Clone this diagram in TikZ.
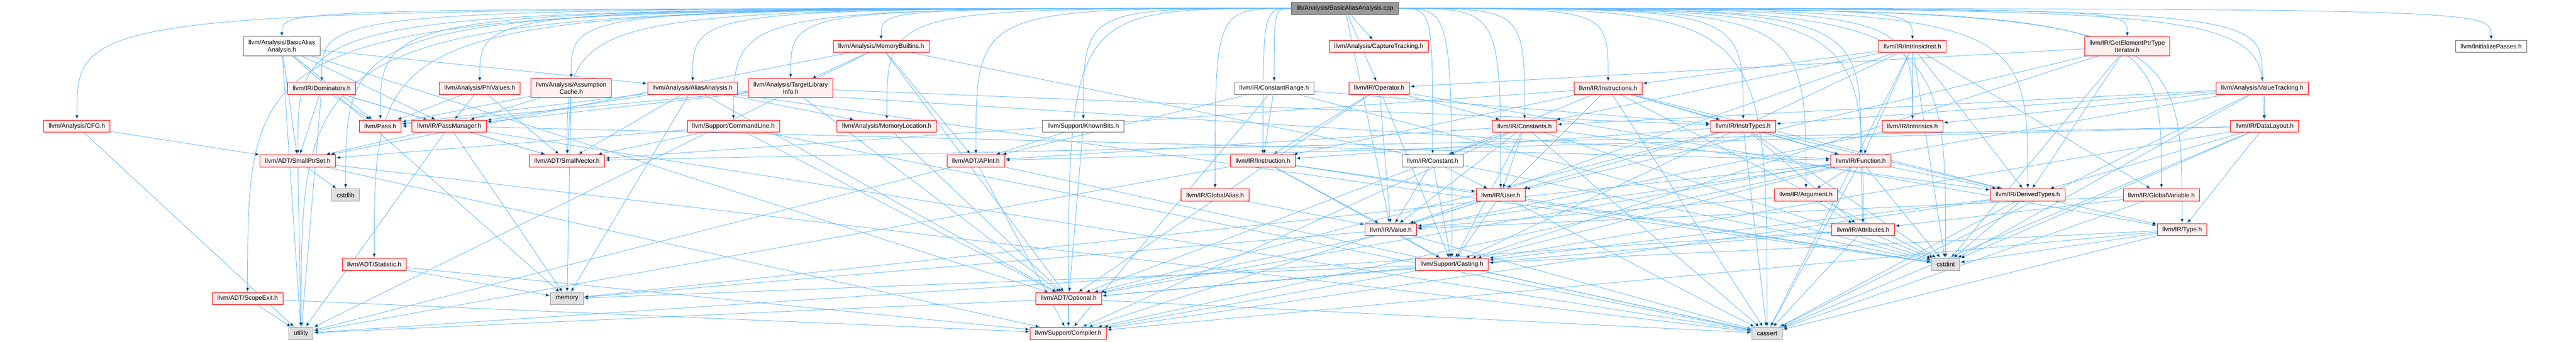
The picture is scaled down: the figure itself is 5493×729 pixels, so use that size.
\documentclass[tikz,border=0pt]{standalone}
\usepackage{fontspec}
\setmainfont{Liberation Sans}
\usepackage{tikz}
\usetikzlibrary{arrows.meta, backgrounds}
\definecolor{edgeblue}{HTML}{63B8FF}
\definecolor{nodepink}{HTML}{FFF0F0}
\definecolor{sysgray}{HTML}{E0E0E0}

\begin{document}
\begin{tikzpicture}[x=0.75pt, y=-0.75pt]
    % Setup the styles for the headers
        \tikzset{node style/.style={draw, rectangle,
                                    line width=0.75pt,
                                    minimum height=19.5pt,
                                    inner xsep=8pt, inner ysep=2pt,
                                    align=center,
                                    font=\fontsize{10}{11.2}\selectfont},
                 two lines/.style={minimum height=30pt},
                 red node/.style={node style, draw=red, fill=nodepink},
                 white node/.style={node style, draw=black!60, fill=white},
                 sys node/.style={node style, draw=black!40, fill=sysgray},
                 root node/.style={node style, draw=black!60, fill=black!40},
                 dep/.style={line width=0.75pt, draw=edgeblue,
                             -{Latex[length=7.5pt,width=6pt]}},
                 from root/.style={to path={.. controls (\tikztostart -| \tikztotarget) .. (\tikztotarget) \tikztonodes}}}
        \useasboundingbox (0,0) rectangle (5493,729);
        % Draw the headers
        \node[root node]  at (2868, 18)   (root)          {lib/Analysis/BasicAliasAnalysis.cpp};
        \node[white node, two lines] at (601, 99) (baah)  {llvm/Analysis/BasicAlias\\Analysis.h};
        \node[red node]   at (1879, 99)   (membuiltins)   {llvm/Analysis/MemoryBuiltins.h};
        \node[red node]   at (2940, 99)   (captrack)      {llvm/Analysis/CaptureTracking.h};
        \node[red node]   at (4078, 99)   (intrinst)      {llvm/IR/IntrinsicInst.h};
        \node[red node, two lines] at (4536, 99) (gepiter) {llvm/IR/GetElementPtrType\\Iterator.h};
        \node[white node] at (5312, 99)   (initpasses)    {llvm/InitializePasses.h};
        \node[red node]   at (686, 188)   (dominators)    {llvm/IR/Dominators.h};
        \node[red node]   at (1023, 188)  (phivalues)     {llvm/Analysis/PhiValues.h};
        \node[red node, two lines] at (1218, 188) (assumption) {llvm/Analysis/Assumption\\Cache.h};
        \node[red node]   at (1477, 188)  (aliasanalysis) {llvm/Analysis/AliasAnalysis.h};
        \node[red node, two lines] at (1686, 188) (tli)   {llvm/Analysis/TargetLibrary\\Info.h};
        \node[white node] at (2717, 188)  (constrange)    {llvm/IR/ConstantRange.h};
        \node[red node]   at (2941, 188)  (operator)      {llvm/IR/Operator.h};
        \node[red node]   at (3429, 188)  (instructions)  {llvm/IR/Instructions.h};
        \node[red node]   at (4824, 188)  (valuetracking) {llvm/Analysis/ValueTracking.h};
        \node[red node]   at (164, 269)   (cfg)           {llvm/Analysis/CFG.h};
        \node[red node]   at (811, 269)   (pass)          {llvm/Pass.h};
        \node[red node]   at (958, 269)   (passmanager)   {llvm/IR/PassManager.h};
        \node[red node]   at (1564, 269)  (commandline)   {llvm/Support/CommandLine.h};
        \node[red node]   at (1891, 269)  (memloc)        {llvm/Analysis/MemoryLocation.h};
        \node[white node] at (2310, 269)  (knownbits)     {llvm/Support/KnownBits.h};
        \node[red node]   at (3251, 269)  (constants)     {llvm/IR/Constants.h};
        \node[red node]   at (3717, 269)  (instrtypes)    {llvm/IR/InstrTypes.h};
        \node[red node]   at (4078, 269)  (intrinsics)    {llvm/IR/Intrinsics.h};
        \node[red node]   at (4829, 269)  (datalayout)    {llvm/IR/DataLayout.h};
        \node[red node]   at (635, 343)   (smallptrset)   {llvm/ADT/SmallPtrSet.h};
        \node[red node]   at (1209, 343)  (smallvector)   {llvm/ADT/SmallVector.h};
        \node[red node]   at (2081, 343)  (apint)         {llvm/ADT/APInt.h};
        \node[red node]   at (2693, 343)  (instruction)   {llvm/IR/Instruction.h};
        \node[white node] at (3055, 343)  (constant)      {llvm/IR/Constant.h};
        \node[red node]   at (3968, 343)  (function)      {llvm/IR/Function.h};
        \node[sys node]   at (737, 416)   (cstdlib)       {cstdlib};
        \node[red node]   at (2591, 416)  (globalalias)   {llvm/IR/GlobalAlias.h};
        \node[red node]   at (3200, 416)  (user)          {llvm/IR/User.h};
        \node[red node]   at (3851, 416)  (argument)      {llvm/IR/Argument.h};
        \node[red node]   at (4324, 416)  (derivedtypes)  {llvm/IR/DerivedTypes.h};
        \node[red node]   at (4609, 416)  (globalvar)     {llvm/IR/GlobalVariable.h};
        \node[red node]   at (2966, 490)  (value)         {llvm/IR/Value.h};
        \node[red node]   at (3973, 490)  (attributes)    {llvm/IR/Attributes.h};
        \node[red node]   at (4653, 490)  (type)          {llvm/IR/Type.h};
        \node[red node]   at (798, 564)   (statistic)     {llvm/ADT/Statistic.h};
        \node[red node]   at (3096, 564)  (casting)       {llvm/Support/Casting.h};
        \node[sys node]   at (4149, 564)  (cstdint)       {cstdint};
        \node[red node]   at (528, 637)   (scopeexit)     {llvm/ADT/ScopeExit.h};
        \node[sys node]   at (1209, 637)  (memory)        {memory};
        \node[red node]   at (2279, 637)  (optional)      {llvm/ADT/Optional.h};
        \node[sys node]   at (642, 711)   (utility)       {utility};
        \node[red node]   at (2278, 711)  (compiler)      {llvm/Support/Compiler.h};
        \node[sys node]   at (3768, 711)  (cassert)       {cassert};
    \begin{scope}[on background layer]
        % Connect the source file with its headers
        \draw[dep]
        (root) edge[from root] (baah)
        (root) edge[from root] (membuiltins)
        (root) edge (captrack)
        (root) edge[from root] (intrinst)
        (root) edge[from root] (gepiter)
        (root) edge[from root] (initpasses)
        (root) edge[from root] (dominators)
        (root) edge[from root] (phivalues)
        (root) edge[from root] (assumption)
        (root) edge[from root] (aliasanalysis)
        (root) edge[from root] (tli)
        (root) edge[from root] (constrange)
        (root) edge (operator)
        (root) edge[from root] (instructions)
        (root) edge[from root] (valuetracking)
        (root) edge[from root] (cfg)
        (root) edge[from root] (pass)
        (root) edge[from root] (commandline)
        (root) edge[from root] (memloc)
        (root) edge[from root] (knownbits)
        (root) edge[from root] (constants)
        (root) edge[from root] (instrtypes)
        (root) edge[from root] (intrinsics)
        (root) edge[from root] (datalayout)
        (root) edge[from root] (smallptrset)
        (root) edge[from root] (smallvector)
        (root) edge[from root] (apint)
        (root) edge[from root] (instruction)
        (root) edge[from root] (constant)
        (root) edge[from root] (function)
        (root) edge[from root] (cstdlib)
        (root) edge[from root] (globalalias)
        (root) edge[from root] (user)
        (root) edge[from root] (argument)
        (root) edge[from root] (derivedtypes)
        (root) edge[from root] (globalvar)
        (root) edge (value)
        (root) edge[from root] (attributes)
        (root) edge[from root] (type)
        (root) edge[from root] (statistic)
        (root) edge[from root] (casting)
        (root) edge[from root] (cstdint)
        (root) edge[from root] (scopeexit)
        (root) edge[from root] (utility)
        (root) edge[from root] (compiler)
        (root) edge[from root] (cassert);
        % Connect the headers with what they include
        \draw[dep]
        (baah) edge (optional)        (baah) edge (smallptrset)     (baah) edge (aliasanalysis)
        (baah) edge (passmanager)     (baah) edge (pass)            (baah) edge (memory)
        (baah) edge (utility)
        (dominators) edge (pass)      (dominators) edge (passmanager) (dominators) edge (smallptrset)
        (dominators) edge (smallvector) (dominators) edge (utility)
        (cfg) edge (smallptrset)      (cfg) edge (utility)
        (smallptrset) edge (compiler) (smallptrset) edge (cassert)  (smallptrset) edge (cstdlib)
        (smallptrset) edge (utility)
        (statistic) edge (compiler)   (statistic) edge (memory)
        (scopeexit) edge (compiler)   (scopeexit) edge (utility)
        (passmanager) edge (pass)     (passmanager) edge (function) (passmanager) edge (smallptrset)
        (passmanager) edge (smallvector) (passmanager) edge (cassert) (passmanager) edge (memory)
        (passmanager) edge (utility)
        (assumption) edge (smallvector) (assumption) edge (passmanager) (assumption) edge (pass)
        (assumption) edge (memory)
        (phivalues) edge (smallvector) (phivalues) edge (passmanager) (phivalues) edge (pass)
        (aliasanalysis) edge (optional) (aliasanalysis) edge (smallvector) (aliasanalysis) edge (memloc)
        (aliasanalysis) edge (function) (aliasanalysis) edge (passmanager) (aliasanalysis) edge (pass)
        (aliasanalysis) edge (cstdint) (aliasanalysis) edge (memory)
        (tli) edge (instrtypes)       (tli) edge (passmanager)      (tli) edge (pass)
        (tli) edge (optional)
        (membuiltins) edge (tli)      (membuiltins) edge (apint)    (membuiltins) edge (optional)
        (membuiltins) edge (smallptrset) (membuiltins) edge (cstdint) (membuiltins) edge (utility)
        (memloc) edge (optional)
        (knownbits) edge (apint)      (knownbits) edge (optional)
        (apint) edge (compiler)       (apint) edge (cassert)        (apint) edge (utility)
        (constrange) edge (apint)     (constrange) edge (instrtypes) (constrange) edge (instruction)
        (constrange) edge (compiler)  (constrange) edge (cstdint)
        (operator) edge (optional)    (operator) edge (constants)   (operator) edge (instruction)
        (operator) edge (type)        (operator) edge (value)       (operator) edge (casting)
        (instructions) edge (smallvector) (instructions) edge (constant) (instructions) edge (derivedtypes)
        (instructions) edge (function) (instructions) edge (instrtypes) (instructions) edge (instruction)
        (instructions) edge (user)    (instructions) edge (cassert) (instructions) edge (cstdint)
        (constants) edge (apint)      (constants) edge (optional)   (constants) edge (constant)
        (constants) edge (derivedtypes) (constants) edge (user)     (constants) edge (value)
        (constants) edge (casting)    (constants) edge (compiler)   (constants) edge (cassert)
        (constants) edge (cstdint)
        (constant) edge (user)        (constant) edge (value)       (constant) edge (casting)
        (user) edge (value)           (user) edge (casting)         (user) edge (compiler)
        (user) edge (cassert)         (user) edge (cstdint)
        (value) edge (casting)        (value) edge (cassert)        (value) edge (memory)
        (casting) edge (optional)     (casting) edge (compiler)     (casting) edge (cassert)
        (casting) edge (memory)
        (optional) edge (compiler)    (optional) edge (cassert)     (optional) edge (utility)
        (instruction) edge (user)     (instruction) edge (value)    (instruction) edge (casting)
        (instruction) edge (cstdint)  (instruction) edge (utility)
        (globalalias) edge (value)
        (intrinst) edge (constants)   (intrinst) edge (derivedtypes) (intrinst) edge (function)
        (intrinst) edge (globalvar)   (intrinst) edge (instructions) (intrinst) edge (intrinsics)
        (intrinst) edge (value)       (intrinst) edge (casting)     (intrinst) edge (cassert)
        (intrinst) edge (cstdint)
        (gepiter) edge (derivedtypes) (gepiter) edge (operator)     (gepiter) edge (user)
        (gepiter) edge (casting)      (gepiter) edge (cstdint)
        (instrtypes) edge (optional)  (instrtypes) edge (attributes) (instrtypes) edge (derivedtypes)
        (instrtypes) edge (function)  (instrtypes) edge (instruction) (instrtypes) edge (user)
        (instrtypes) edge (cassert)   (instrtypes) edge (cstdint)
        (intrinsics) edge (optional)
        (function) edge (argument)    (function) edge (attributes)  (function) edge (derivedtypes)
        (function) edge (value)       (function) edge (casting)     (function) edge (compiler)
        (function) edge (cassert)     (function) edge (cstdint)     (function) edge (memory)
        (argument) edge (attributes)  (argument) edge (value)
        (attributes) edge (optional)  (attributes) edge (cassert)   (attributes) edge (cstdint)
        (attributes) edge (utility)
        (derivedtypes) edge (type)    (derivedtypes) edge (casting) (derivedtypes) edge (compiler)
        (derivedtypes) edge (cassert) (derivedtypes) edge (cstdint)
        (type) edge (casting)         (type) edge (compiler)        (type) edge (cassert)
        (type) edge (cstdint)
        (globalvar) edge (attributes) (globalvar) edge (value)      (globalvar) edge (cassert)
        (valuetracking) edge (optional) (valuetracking) edge (constants) (valuetracking) edge (datalayout)
        (valuetracking) edge (instrtypes) (valuetracking) edge (intrinsics) (valuetracking) edge (cassert)
        (valuetracking) edge (cstdint)
        (datalayout) edge (apint)     (datalayout) edge (smallvector) (datalayout) edge (derivedtypes)
        (datalayout) edge (type)      (datalayout) edge (casting)   (datalayout) edge (cassert)
        (datalayout) edge (cstdint)
        (commandline) edge (optional) (commandline) edge (smallptrset) (commandline) edge (smallvector)
        (commandline) edge (cassert);
    \end{scope}
\end{tikzpicture}
\end{document}
